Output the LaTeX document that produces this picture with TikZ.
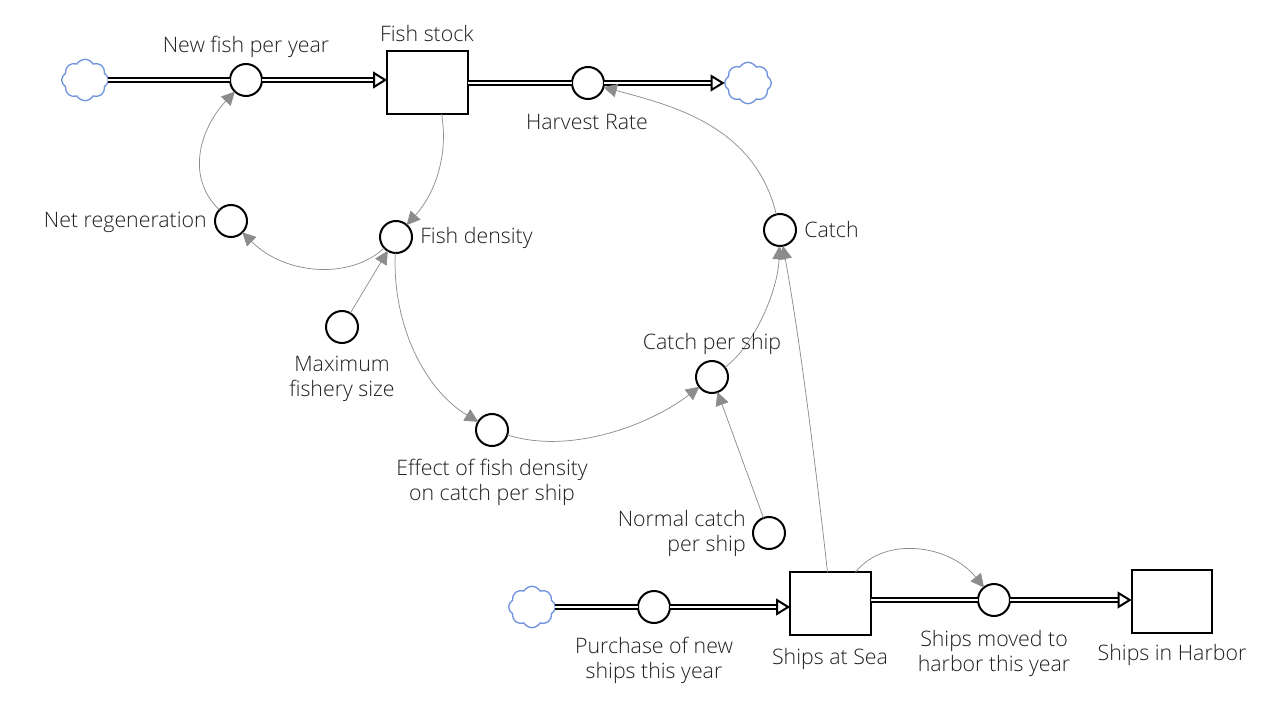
\documentclass[tikz,border=0pt]{standalone}
\usepackage{fontspec}
\setmainfont{Open Sans Light}
\usetikzlibrary{shapes.symbols,arrows.meta,calc}
\definecolor{cloudblue}{HTML}{6F92DE}
\definecolor{linkgray}{HTML}{8C8C8C}
\definecolor{textc}{HTML}{1E1E1E}
\tikzset{
  x=0.75pt,y=-0.75pt,
  conv/.style={circle,draw=black,line width=1.5pt,fill=white,minimum size=24pt,inner sep=0pt,outer sep=0pt},
  stock/.style={rectangle,draw=black,line width=1.3pt,fill=white,minimum width=60.5pt,minimum height=47pt,inner sep=0pt,outer sep=0pt},
  sky/.style={cloud,cloud puffs=8,cloud puff arc=120,aspect=1.1,draw=cloudblue,line width=1pt,fill=white,minimum width=35pt,minimum height=31pt,inner sep=0pt,outer sep=0pt},
  flow/.style={draw=black,line width=1.5pt,double=white,double distance=1.5pt},
  flowtip/.style={flow,-{Triangle[open,length=10.5pt,width=12.5pt]}},
  link/.style={draw=linkgray,line width=0.55pt,-{Triangle[length=10pt,width=10pt,fill=linkgray]}},
  lab/.style={text=textc,font=\fontsize{16}{18.8}\selectfont,align=center,inner sep=0pt},
}
\begin{document}
\begin{tikzpicture}
\useasboundingbox (0,0) rectangle (1280,720);
\node[stock] (fishstock) at (427.5,82.5) {};
\node[stock] (sea) at (830.5,603.5) {};
\node[stock] (harbor) at (1172,601.5) {};
\node[sky] (c1) at (85,80) {};
\node[sky] (c2) at (748,83) {};
\node[sky] (c3) at (532,607) {};
\node[conv] (newfish) at (246,80) {};
\node[conv] (harvest) at (588,83) {};
\node[conv] (netreg) at (231,221) {};
\node[conv] (density) at (396,237) {};
\node[conv] (maxsize) at (342,327) {};
\node[conv] (effect) at (492,430) {};
\node[conv] (perShip) at (712,377) {};
\node[conv] (catch) at (780,230) {};
\node[conv] (normal) at (769,533) {};
\node[conv] (purchase) at (654,607) {};
\node[conv] (moved) at (994,600) {};
% flows
\draw[flow] (c1.east |- newfish) -- (newfish.west);
\draw[flowtip] (newfish.east) -- (fishstock.west |- newfish);
\draw[flow] (fishstock.east |- harvest) -- (harvest.west);
\draw[flowtip] (harvest.east) -- (c2.west |- harvest);
\draw[flow] (c3.east |- purchase) -- (purchase.west);
\draw[flowtip] (purchase.east) -- (sea.west |- purchase);
\draw[flow] (sea.east |- moved) -- (moved.west);
\draw[flowtip] (moved.east) -- (harbor.west |- moved);
% links
\coordinate (fs1) at ($(fishstock.south)+(14,0)$);
\coordinate (s1) at ($(sea.north)+(-3,0)$);
\coordinate (s2) at ($(sea.north)+(25,0)$);
\draw[link] (netreg) .. controls (183,175) and (203,125) .. (newfish);
\draw[link] (fs1) .. controls (448,150) and (438,190) .. (density);
\draw[link] (density) .. controls (350,280) and (285,275) .. (netreg);
\draw[link] (maxsize) -- (density);
\draw[link] (density) .. controls (392,325) and (425,390) .. (effect);
\draw[link] (effect) .. controls (570,455) and (650,425) .. (perShip);
\draw[link] (perShip) .. controls (755,345) and (778,290) .. (catch);
\draw[link] (normal) -- (perShip);
\draw[link] (s1) .. controls (815,460) and (800,340) .. (catch);
\draw[link] (s2) .. controls (885,535) and (950,545) .. (moved);
\draw[link] (catch) .. controls (755,125) and (670,105) .. (harvest);
% labels
\node[lab] (l1) at (246,47) {New fish per year};
\node[lab] (l2) at (427,34) {Fish stock};
\node[lab] (l3) at (587,122) {Harvest Rate};
\node[lab,anchor=east] (l4) at (207,222) {Net regeneration};
\node[lab,anchor=west] (l5) at (420,238) {Fish density};
\node[lab,anchor=west] (l6) at (804,230) {Catch};
\node[lab] (l7) at (342,379) {Maximum\\fishery size};
\node[lab] (l8) at (712,344) {Catch per ship};
\node[lab] (l9) at (492,482) {Effect of fish density\\on catch per ship};
\node[lab,anchor=east,align=right] (l10) at (746,533) {Normal catch\\per ship};
\node[lab] (l11) at (654,660) {Purchase of new\\ships this year};
\node[lab] (l12) at (830,659) {Ships at Sea};
\node[lab] (l13) at (994,653) {Ships moved to\\harbor this year};
\node[lab] (l14) at (1172,655) {Ships in Harbor};
\end{tikzpicture}
\end{document}
